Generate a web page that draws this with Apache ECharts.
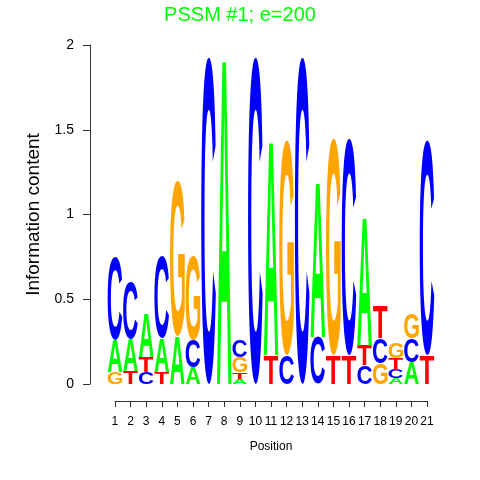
<!DOCTYPE html>
<html>
<head>
<meta charset="utf-8">
<script src="https://cdn.jsdelivr.net/npm/echarts@6/dist/echarts.min.js"></script>
<style>html,body{margin:0;padding:0;background:#fff}#c{width:480px;height:480px}</style>
</head>
<body>
<div id="c"></div>
<script>
// ---- data (bits per letter at each position) ----
const positions = [1,2,3,4,5,6,7,8,9,10,11,12,13,14,15,16,17,18,19,20,21];
const letters = ['A','C','G','T'];
const heightA = [0.19,0.19,0.26,0.20,0.28,0.10,0.00,1.93,0.03,0.00,1.27,0.00,0.00,0.92,0.00,0.00,0.76,0.00,0.035,0.13,0.00];
const heightC = [0.49,0.33,0.07,0.48,0.00,0.16,1.93,0.00,0.10,1.93,0.00,0.17,1.93,0.28,0.00,1.28,0.11,0.15,0.05,0.14,1.27];
const heightG = [0.07,0.00,0.00,0.00,0.92,0.50,0.00,0.00,0.09,0.00,0.00,1.27,0.00,0.00,1.28,0.00,0.00,0.12,0.09,0.15,0.00];
const heightT = [0.00,0.075,0.09,0.07,0.00,0.00,0.00,0.00,0.04,0.00,0.17,0.00,0.00,0.00,0.17,0.17,0.12,0.19,0.065,0.00,0.17];
const xTickLabels = ['1','2','3','4','5','6','7','8','9','10','11','12','13','14','15','16','17','18','19','20','21'];
const letterColors = {A:'#00ff00', C:'#0000ff', G:'#ffa500', T:'#ff0000'};
const titleText = 'PSSM #1; e=200';

// ---- build stacked letter rows: [position, bottom, top, letterIndex] ----
const heights = {A:heightA, C:heightC, G:heightG, T:heightT};
const stackData = [];
positions.forEach((p, i) => {
  const col = letters.map((L, k) => ({k, h: heights[L][i]})).filter(o => o.h > 0);
  col.sort((a, b) => a.h - b.h);
  let base = 0;
  col.forEach(o => { stackData.push([p, base, base + o.h, o.k]); base += o.h; });
});

// ---- glyph metrics for stretching letters to their boxes ----
const FONT_FAMILY = '"Liberation Sans", Arial, sans-serif';
const mctx = document.createElement('canvas').getContext('2d');
mctx.font = 'bold 100px ' + FONT_FAMILY;
mctx.textAlign = 'center';
mctx.textBaseline = 'middle';
const metrics = {};
letters.forEach(L => {
  const m = mctx.measureText(L);
  metrics[L] = {l: m.actualBoundingBoxLeft, r: m.actualBoundingBoxRight, a: m.actualBoundingBoxAscent, d: m.actualBoundingBoxDescent};
});

const LETTER_W = 0.94;
function renderLetter(params, api) {
  const pos = api.value(0), y0 = api.value(1), y1 = api.value(2);
  const L = letters[api.value(3)];
  const p0 = api.coord([pos - LETTER_W / 2, y1]);
  const p1 = api.coord([pos + LETTER_W / 2, y0]);
  const W = p1[0] - p0[0], H = p1[1] - p0[1];
  if (H < 0.8) return null;
  const m = metrics[L];
  const sx = W / (m.l + m.r), sy = H / (m.a + m.d);
  return {
    type: 'text',
    x: p0[0] + m.l * sx,
    y: p0[1] + m.a * sy,
    scaleX: sx,
    scaleY: sy,
    style: {
      text: L, x: 0, y: 0,
      fontSize: 100, fontWeight: 'bold', fontFamily: FONT_FAMILY,
      fill: letterColors[L],
      align: 'center', verticalAlign: 'middle',
      textAlign: 'center', textVerticalAlign: 'middle'
    }
  };
}

const chart = echarts.init(document.getElementById('c'), null, {renderer: 'canvas'});
const axisColor = '#333';
chart.setOption({
  animation: false,
  backgroundColor: '#fff',
  textStyle: {fontFamily: FONT_FAMILY},
  title: {
    text: titleText, left: 'center', top: 0,
    textStyle: {color: '#00ff00', fontSize: 20, fontWeight: 'normal', fontFamily: FONT_FAMILY}
  },
  grid: [
    {left: 90, right: 28, top: 45, height: 339, containLabel: false, outerBoundsMode: 'none'},
    {left: 114.96, right: 53, top: 380, height: 21, containLabel: false, outerBoundsMode: 'none'}
  ],
  xAxis: [
    {gridIndex: 0, type: 'value', min: -0.6, max: 22.6, show: false},
    {gridIndex: 1, type: 'value', min: 1, max: 21, interval: 1, position: 'bottom',
     axisLine: {show: true, onZero: false, lineStyle: {color: axisColor, width: 1}},
     axisTick: {show: true, length: 6, lineStyle: {color: axisColor}},
     splitLine: {show: false},
     axisLabel: {color: '#000', fontSize: 12, margin: 15, interval: 0, hideOverlap: false,
                 formatter: v => xTickLabels[Math.round(v) - 1] || ''},
     name: 'Position', nameLocation: 'middle', nameGap: 40,
     nameTextStyle: {color: '#000', fontSize: 12}}
  ],
  yAxis: [
    {gridIndex: 0, type: 'value', min: 0, max: 2, interval: 0.5, position: 'left',
     axisLine: {show: true, onZero: false, lineStyle: {color: axisColor, width: 1}},
     axisTick: {show: true, length: 7, lineStyle: {color: axisColor}},
     splitLine: {show: false},
     axisLabel: {color: '#000', fontSize: 14, margin: 16},
     name: 'Information content', nameLocation: 'middle', nameGap: 44,
     nameTextStyle: {color: '#000', fontSize: 19}},
    {gridIndex: 1, type: 'value', show: false}
  ],
  series: [{
    type: 'custom',
    xAxisIndex: 0, yAxisIndex: 0,
    renderItem: renderLetter,
    data: stackData,
    silent: true
  }]
});
</script>
</body>
</html>
